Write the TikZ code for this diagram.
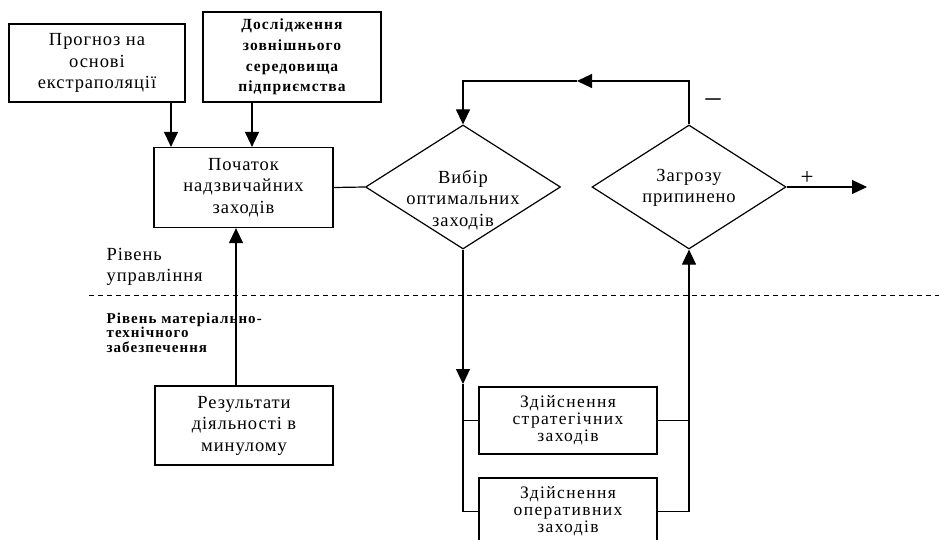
\documentclass[tikz,border=0pt]{standalone}
\usepackage{fontspec}
\setmainfont{Liberation Serif}[LetterSpace=5]
\newfontfamily\boxfam{Liberation Serif}[LetterSpace=8]
\newfontfamily\smallfam{Liberation Serif}[LetterSpace=7]
\usetikzlibrary{arrows.meta,shapes.geometric}
\newcommand\fbig{\fontsize{18.5}{21.5}\selectfont}
\newcommand\fmid{\fontsize{15.5}{20.7}\selectfont\smallfam\bfseries}
\newcommand\fsmbox{\fontsize{17.5}{17}\selectfont\boxfam}
\newcommand\flvl{\fontsize{15}{14.5}\selectfont\smallfam\bfseries}
\tikzset{
  x=1pt, y=-1pt,
  blk/.style={draw, line width=1.2pt, rectangle, inner sep=0pt, align=center, font=\fbig},
  dia/.style={draw, line width=1.2pt, diamond, inner sep=0pt, minimum width=195pt, minimum height=124pt},
  txt/.style={inner sep=0pt, align=center, font=\fbig},
  arr/.style={-{Triangle[length=15pt,width=14pt]}},
  lvl/.style={inner sep=0pt, align=left, anchor=west},
  sep/.style={dash pattern=on 5pt off 4pt, line width=1pt}
}
\begin{document}
\begin{tikzpicture}[line width=1.2pt]
\useasboundingbox (0,0) rectangle (939,540);
\fill[white] (0,0) rectangle (939,540);
\clip (0,0) rectangle (939,540);

% boxes
\node[blk, minimum width=176pt, minimum height=78pt] (p) at (97,63) {Прогноз на\\основі\\екстраполяції};
\node[blk, minimum width=178pt, minimum height=90pt, font=\fmid] (d) at (292,57) {Дослідження\\зовнішнього\\середовища\\підприємства};
\node[blk, minimum width=179pt, minimum height=80pt] (s) at (243.5,187.5) {Початок\\надзвичайних\\заходів};
\node[blk, minimum width=178pt, minimum height=79pt] (r) at (244,425.5) {Результати\\діяльності в\\минулому};
\node[blk, minimum width=178pt, minimum height=67pt, font=\fsmbox] (b4) at (568,420.5) {Здійснення\\стратегічних\\заходів};
\node[blk, minimum width=178pt, minimum height=67pt, font=\fsmbox] (b5) at (568,511.5) {Здійснення\\оперативних\\заходів};

% diamonds
\node[dia] (d1) at (463,187) {};
\node[txt] (d1t) at (463,200) {Вибір\\оптимальних\\заходів};
\node[dia, minimum width=194pt] (d2) at (689,187) {};
\node[txt] (d2t) at (689,188) {Загрозу\\припинено};

% level labels
\node[lvl, font=\fbig] (l1) at (106,267) {Рівень\\управління};
\node[lvl, font=\flvl] (l2) at (106,332.5) {Рівень матеріально-\\технічного\\забезпечення};
\coordinate (sl) at (89,295);
\coordinate (sr) at (939,295);
\draw[sep] (sl) -- (sr);

% arrows into Початок
\coordinate (a1) at (171,0);
\coordinate (a2) at (252,0);
\coordinate (a3) at (236,0);
\draw[arr] (a1 |- p.south) -- (a1 |- s.north);
\draw[arr] (a2 |- d.south) -- (a2 |- s.north);
\draw[arr] (a3 |- r.north) -- (a3 |- s.south);

% Початок -> Вибір
\draw (s.east) -- (d1.west);

% feedback loop
\coordinate (lt) at (463,81);
\coordinate (mk) at (577,81);
\draw[arr] (d2.north) |- (mk);
\draw[arr] (mk) -- (lt) -- (d1.north);
\node[inner sep=0pt, font=\fontsize{30}{30}\selectfont] (minus) at (713,103) {–};

% exit
\coordinate (out) at (867,187);
\draw[arr] (d2.east) -- (out);
\node[inner sep=0pt, font=\fontsize{23}{23}\selectfont] (plus) at (807,178) {+};

% down branch
\coordinate (dn) at (463,384);
\draw[arr] (d1.south) -- (dn);
\draw (dn) |- (b5.west);
\draw (dn |- b4.west) -- (b4.west);

% up branch
\draw[arr] (b5.east) -| (d2.south);
\draw (b4.east) -- (b4.east -| d2.south);
\end{tikzpicture}
\end{document}
